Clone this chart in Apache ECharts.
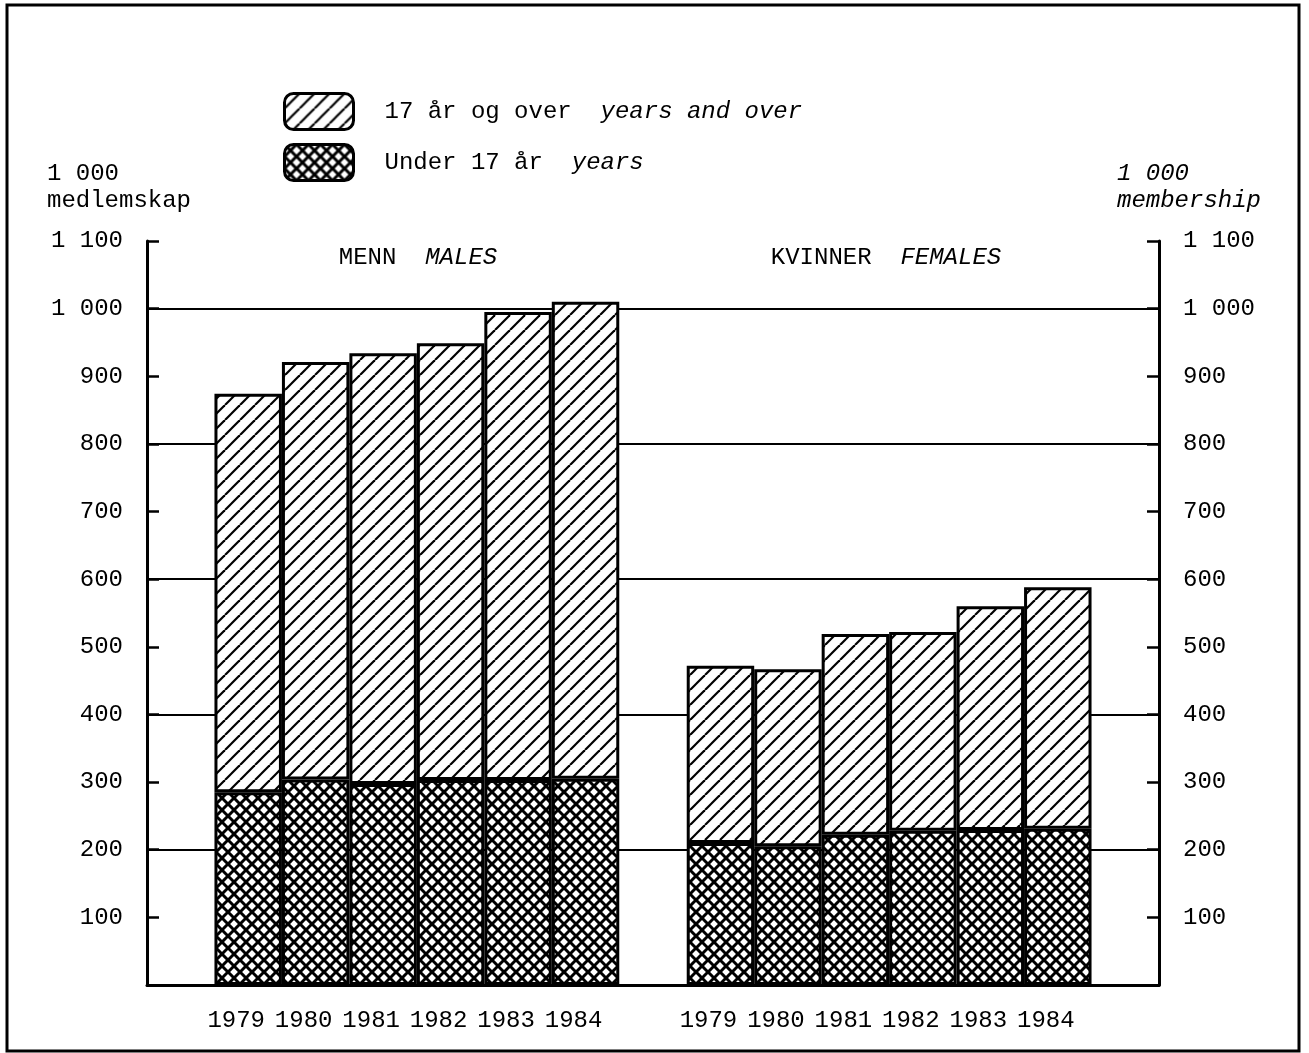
<!DOCTYPE html>
<html><head><meta charset="utf-8">
<script src="https://cdn.jsdelivr.net/npm/echarts@6/dist/echarts.min.js"></script>
<style>html,body{margin:0;padding:0;background:#fff}#c{width:1309px;height:1053px}</style>
</head><body><div id="c"></div>
<script>
const years = ['1979','1980','1981','1982','1983','1984'];
const malesTotal = [874, 921, 934, 949, 995, 1010];
const malesUnder17 = [285, 304, 297, 303, 303, 305];
const femalesTotal = [472, 467, 519, 522, 560, 588];
const femalesUnder17 = [210, 205, 222, 228, 229, 231];
const yTickLabels = ['', '100', '200', '300', '400', '500', '600', '700', '800', '900', '1 000', '1 100'];
const seriesNames = ['17 år og over', 'Under 17 år'];
const seriesNamesEn = ['years and over', 'years'];
const groupTitles = [['MENN', 'MALES'], ['KVINNER', 'FEMALES']];
const axisTitleLeft = ['1 000', 'medlemskap'];
const axisTitleRight = ['1 000', 'membership'];

const FONT = 'Liberation Mono';

function makePattern(p, cross, lw) {
  const c = document.createElement('canvas'); c.width = p; c.height = p;
  const g = c.getContext('2d');
  g.fillStyle = '#fff'; g.fillRect(0, 0, p, p);
  g.strokeStyle = '#000'; g.lineWidth = lw;
  const line = (x0, y0, x1, y1) => { g.beginPath(); g.moveTo(x0, y0); g.lineTo(x1, y1); g.stroke(); };
  for (const o of [-p, 0, p]) line(o, p, o + p, 0);
  if (cross) for (const o of [-p, 0, p]) line(o, 0, o + p, p);
  return c;
}
const diagPat = { image: makePattern(15, false, 2.2), repeat: 'repeat' };
const crossPat = { image: makePattern(12, true, 3), repeat: 'repeat' };

const cats = ['g0', ...years.map(y => 'M' + y), 'g1', ...years.map(y => 'F' + y), 'g2'];
const underData = ['-', ...malesUnder17, '-', ...femalesUnder17, '-'];
const overData = ['-', ...malesTotal.map((t, i) => t - malesUnder17[i]), '-',
                  ...femalesTotal.map((t, i) => t - femalesUnder17[i]), '-'];

const chart = echarts.init(document.getElementById('c'), null, { renderer: 'canvas' });

const yAxisBase = {
  type: 'value', min: 0, max: 1100, interval: 100,
  axisLine: { show: true, lineStyle: { color: '#000', width: 3 } },
  axisTick: { show: true, inside: true, length: 12, lineStyle: { color: '#000', width: 2.5 } },
  axisLabel: { margin: 24, color: '#000', fontFamily: FONT, fontSize: 24,
               formatter: v => yTickLabels[Math.round(v / 100)] },
};

const richTxt = {
  a: { fontFamily: FONT, fontSize: 24, color: '#000' },
  b: { fontFamily: FONT, fontSize: 24, color: '#000', fontStyle: 'italic' }
};

chart.setOption({
  animation: false,
  backgroundColor: '#fff',
  grid: { left: 147, right: 150, top: 241, bottom: 68, containLabel: false, outerBoundsMode: 'none' },
  legend: {
    data: seriesNames,
    orient: 'vertical', left: 283, top: 92, padding: 0,
    itemWidth: 69, itemHeight: 36, itemGap: 12,
    icon: 'roundRect',
    itemStyle: { borderColor: '#000', borderWidth: 3 },
    selectedMode: false,
    formatter: n => {
      const i = seriesNames.indexOf(n);
      return '{a|' + n + '\u00a0\u00a0}{b|' + seriesNamesEn[i] + '}';
    },
    textStyle: { padding: [0, 0, 0, 26], rich: richTxt }
  },
  xAxis: {
    type: 'category', data: cats,
    axisLine: { show: true, lineStyle: { color: '#000', width: 3 } },
    axisTick: { show: false },
    axisLabel: { margin: 24, color: '#000', fontFamily: FONT, fontSize: 24, interval: 0,
                 padding: [0, 24, 0, 0],
                 formatter: v => v.length === 5 ? v.slice(1) : '' },
    splitLine: { show: false }
  },
  yAxis: [
    Object.assign({}, yAxisBase, {
      position: 'left',
      splitLine: { show: true, lineStyle: { color: ['#000', 'rgba(0,0,0,0)'], width: 2 } }
    }),
    Object.assign({}, yAxisBase, { position: 'right', splitLine: { show: false } })
  ],
  series: [
    { name: seriesNames[1], type: 'bar', stack: 'tot', data: underData,
      barWidth: '100%', barCategoryGap: '0%',
      itemStyle: { color: crossPat, borderColor: '#000', borderWidth: 3 } },
    { name: seriesNames[0], type: 'bar', stack: 'tot', data: overData,
      barWidth: '100%', barCategoryGap: '0%',
      itemStyle: { color: diagPat, borderColor: '#000', borderWidth: 3 } }
  ],
  graphic: [
    { type: 'rect', shape: { x: 7, y: 5, width: 1292, height: 1046 },
      style: { fill: 'none', stroke: '#000', lineWidth: 3 }, silent: true },
    { type: 'text', x: 47, y: 160,
      style: { text: axisTitleLeft.join('\n'), fontFamily: FONT, fontSize: 24, lineHeight: 27, fill: '#000' } },
    { type: 'text', x: 1117, y: 160,
      style: { text: axisTitleRight.join('\n'), fontFamily: FONT, fontSize: 24, lineHeight: 27,
               fontStyle: 'italic', fill: '#000' } },
    { type: 'text', x: 418, y: 258,
      style: { text: '{a|' + groupTitles[0][0] + '\u00a0\u00a0}{b|' + groupTitles[0][1] + '}',
               align: 'center', verticalAlign: 'middle', rich: richTxt } },
    { type: 'text', x: 886, y: 258,
      style: { text: '{a|' + groupTitles[1][0] + '\u00a0\u00a0}{b|' + groupTitles[1][1] + '}',
               align: 'center', verticalAlign: 'middle', rich: richTxt } }
  ]
});
</script></body></html>
